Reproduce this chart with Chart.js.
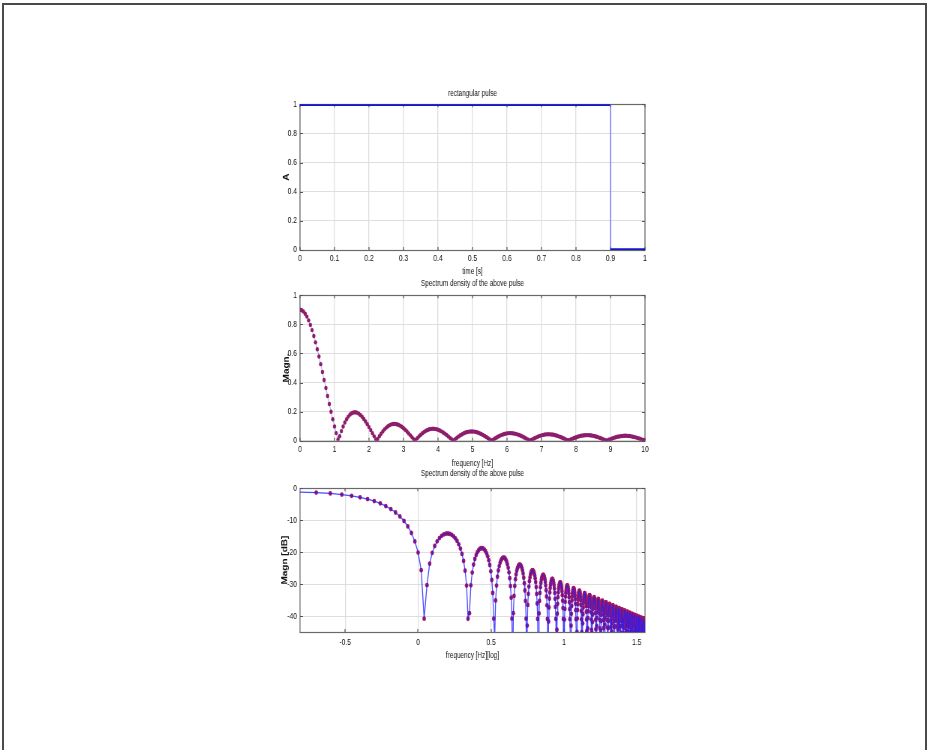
<!DOCTYPE html>
<html>
<head>
<meta charset="utf-8">
<title>rectangular pulse</title>
<script src="https://cdn.jsdelivr.net/npm/chart.js@4.4.1/dist/chart.umd.min.js"></script>
<style>
  html, body { margin: 0; padding: 0; background: #fff; }
  body { width: 927px; height: 750px; position: relative; overflow: hidden; }
  .frame { position: absolute; left: 2px; top: 3px; width: 925px; height: 760px; box-sizing: border-box;
           border: 2px solid #4a4a4a; border-bottom: none; }
  /* the original figure is squeezed horizontally: draw wide, then scale x by 0.75 */
  canvas { position: absolute; left: 0; transform: scaleX(0.75); transform-origin: 0 0; }
</style>
</head>
<body>
<div class="frame"></div>
<canvas id="pulseChart" width="1236" height="280" style="top:0"></canvas>
<canvas id="spectrumChart" width="1236" height="200" style="top:270px"></canvas>
<canvas id="dbChart" width="1236" height="210" style="top:460px"></canvas>
<script>
// top: rectangular pulse (samples every 0.01 s, edge at 0.9 s)
const pulseTime = [
  0, 0.01, 0.02, 0.03, 0.04, 0.05, 0.06, 0.07, 0.08, 0.09,
  0.1, 0.11, 0.12, 0.13, 0.14, 0.15, 0.16, 0.17, 0.18, 0.19,
  0.2, 0.21, 0.22, 0.23, 0.24, 0.25, 0.26, 0.27, 0.28, 0.29,
  0.3, 0.31, 0.32, 0.33, 0.34, 0.35, 0.36, 0.37, 0.38, 0.39,
  0.4, 0.41, 0.42, 0.43, 0.44, 0.45, 0.46, 0.47, 0.48, 0.49,
  0.5, 0.51, 0.52, 0.53, 0.54, 0.55, 0.56, 0.57, 0.58, 0.59,
  0.6, 0.61, 0.62, 0.63, 0.64, 0.65, 0.66, 0.67, 0.68, 0.69,
  0.7, 0.71, 0.72, 0.73, 0.74, 0.75, 0.76, 0.77, 0.78, 0.79,
  0.8, 0.81, 0.82, 0.83, 0.84, 0.85, 0.86, 0.87, 0.88, 0.89,
  0.9, 0.9, 0.91, 0.92, 0.93, 0.94, 0.95, 0.96, 0.97, 0.98, 0.99, 1
];
const pulseAmp = [
  1, 1, 1, 1, 1, 1, 1, 1, 1, 1,
  1, 1, 1, 1, 1, 1, 1, 1, 1, 1,
  1, 1, 1, 1, 1, 1, 1, 1, 1, 1,
  1, 1, 1, 1, 1, 1, 1, 1, 1, 1,
  1, 1, 1, 1, 1, 1, 1, 1, 1, 1,
  1, 1, 1, 1, 1, 1, 1, 1, 1, 1,
  1, 1, 1, 1, 1, 1, 1, 1, 1, 1,
  1, 1, 1, 1, 1, 1, 1, 1, 1, 1,
  1, 1, 1, 1, 1, 1, 1, 1, 1, 1,
  1, 0, 0, 0, 0, 0, 0, 0, 0, 0, 0, 0
];
const timeTicks = [0, 0.1, 0.2, 0.3, 0.4, 0.5, 0.6, 0.7, 0.8, 0.9, 1];
const ampTicks = [0, 0.2, 0.4, 0.6, 0.8, 1];

// middle: magnitude, every 0.05 Hz from 0 to 10 Hz
const freqStep = 0.05;
const magn = [
  0.9, 0.897, 0.888, 0.873, 0.853, 0.827, 0.796, 0.760, 0.720, 0.676,
  0.629, 0.579, 0.526, 0.472, 0.417, 0.362, 0.307, 0.252, 0.199, 0.147,
  0.0984, 0.0521, 0.0091, 0.0304, 0.0660, 0.0975, 0.1246, 0.1474, 0.1657, 0.1796,
  0.1891, 0.1943, 0.1954, 0.1927, 0.1864, 0.1769, 0.1644, 0.1495, 0.1324, 0.1136,
  0.0936, 0.0727, 0.0513, 0.0300, 0.0091, 0.0111, 0.0302, 0.0479, 0.0639, 0.0780,
  0.0900, 0.0998, 0.1073, 0.1124, 0.1150, 0.1154, 0.1135, 0.1094, 0.1033, 0.0954,
  0.0858, 0.0749, 0.0629, 0.0501, 0.0366, 0.0229, 0.0091, 0.0045, 0.0175, 0.0299,
  0.0413, 0.0516, 0.0605, 0.0681, 0.0740, 0.0784, 0.0811, 0.0822, 0.0816, 0.0794,
  0.0757, 0.0706, 0.0642, 0.0567, 0.0483, 0.0391, 0.0294, 0.0193, 0.0091, 0.0011,
  0.0111, 0.0206, 0.0295, 0.0376, 0.0448, 0.0510, 0.0560, 0.0598, 0.0624, 0.0637,
  0.0637, 0.0624, 0.0599, 0.0563, 0.0517, 0.0461, 0.0397, 0.0327, 0.0251, 0.0172,
  0.0091, 0.0009, 0.0071, 0.0149, 0.0222, 0.0289, 0.0350, 0.0402, 0.0446, 0.0480,
  0.0505, 0.0518, 0.0522, 0.0514, 0.0497, 0.0471, 0.0435, 0.0391, 0.0340, 0.0284,
  0.0222, 0.0157, 0.0090, 0.0023, 0.0045, 0.0110, 0.0172, 0.0230, 0.0283, 0.0329,
  0.0368, 0.0399, 0.0422, 0.0436, 0.0441, 0.0438, 0.0426, 0.0405, 0.0377, 0.0342,
  0.0300, 0.0253, 0.0202, 0.0147, 0.0090, 0.0032, 0.0026, 0.0082, 0.0136, 0.0187,
  0.0234, 0.0275, 0.0311, 0.0339, 0.0361, 0.0375, 0.0382, 0.0381, 0.0372, 0.0356,
  0.0334, 0.0305, 0.0270, 0.0230, 0.0186, 0.0139, 0.0090, 0.0039, 0.0011, 0.0061,
  0.0109, 0.0155, 0.0197, 0.0234, 0.0267, 0.0293, 0.0314, 0.0328, 0.0336, 0.0337,
  0.0331, 0.0319, 0.0300, 0.0276, 0.0246, 0.0212, 0.0174, 0.0133, 0.0090, 0.0045,
  0.0003
];
const freqTicks = [0, 1, 2, 3, 4, 5, 6, 7, 8, 9, 10];
const magnTicks = [0, 0.2, 0.4, 0.6, 0.8, 1];

// bottom: the same spectrum in dB on a log axis, continued above 10 Hz
// magnHighA: 10.1, 10.2, ... 36.0 Hz   magnHighB: 10.15, 10.25, ... 35.95 Hz
const freqStartHighA = 10.1;
const freqStartHighB = 10.15;
const freqStepHigh = 0.1;
const magnHighA = [
  0.00879, 0.01672, 0.02318, 0.02769, 0.02994, 0.02979, 0.02730, 0.02271, 0.01641, 0.00894,
  0.00090, 0.00707, 0.01434, 0.02036, 0.02466, 0.02696, 0.02709, 0.02508, 0.02114, 0.01559,
  0.00891, 0.00164, 0.00564, 0.01237, 0.01801, 0.02214, 0.02446, 0.02482, 0.02322, 0.01981,
  0.01489, 0.00888, 0.00225, 0.00445, 0.01070, 0.01602, 0.02000, 0.02234, 0.02289, 0.02162,
  0.01867, 0.01429, 0.00884, 0.00277, 0.00343, 0.00928, 0.01432, 0.01816, 0.02051, 0.02122,
  0.02024, 0.01768, 0.01376, 0.00880, 0.00321, 0.00256, 0.00805, 0.01284, 0.01656, 0.01892,
  0.01976, 0.01903, 0.01681, 0.01329, 0.00876, 0.00359, 0.00179, 0.00697, 0.01154, 0.01515,
  0.01751, 0.01847, 0.01796, 0.01603, 0.01286, 0.00871, 0.00392, 0.00112, 0.00602, 0.01039,
  0.01390, 0.01626, 0.01732, 0.01699, 0.01533, 0.01248, 0.00866, 0.00421, 0.00053, 0.00518,
  0.00937, 0.01277, 0.01514, 0.01628, 0.01612, 0.01469, 0.01212, 0.00861, 0.00446, 0.00002,
  0.00442, 0.00844, 0.01176, 0.01412, 0.01534, 0.01533, 0.01411, 0.01179, 0.00856, 0.00468,
  0.00047, 0.00373, 0.00761, 0.01084, 0.01319, 0.01448, 0.01460, 0.01358, 0.01149, 0.00850,
  0.00488, 0.00090, 0.00311, 0.00685, 0.01000, 0.01234, 0.01368, 0.01393, 0.01308, 0.01120,
  0.00845, 0.00505, 0.00129, 0.00255, 0.00615, 0.00923, 0.01156, 0.01295, 0.01331, 0.01261,
  0.01092, 0.00838, 0.00520, 0.00163, 0.00203, 0.00551, 0.00852, 0.01084, 0.01228, 0.01273,
  0.01218, 0.01066, 0.00832, 0.00534, 0.00195, 0.00156, 0.00492, 0.00786, 0.01016, 0.01164,
  0.01219, 0.01177, 0.01042, 0.00825, 0.00545, 0.00224, 0.00112, 0.00437, 0.00725, 0.00954,
  0.01105, 0.01168, 0.01138, 0.01018, 0.00818, 0.00556, 0.00251, 0.00072, 0.00386, 0.00668,
  0.00895, 0.01050, 0.01120, 0.01101, 0.00995, 0.00811, 0.00565, 0.00275, 0.00035, 0.00339,
  0.00615, 0.00840, 0.00997, 0.01074, 0.01066, 0.00973, 0.00804, 0.00572, 0.00297, 0.00001,
  0.00295, 0.00565, 0.00788, 0.00947, 0.01031, 0.01032, 0.00952, 0.00796, 0.00579, 0.00317,
  0.00032, 0.00254, 0.00518, 0.00739, 0.00900, 0.00990, 0.01000, 0.00931, 0.00788, 0.00585,
  0.00336, 0.00062, 0.00215, 0.00473, 0.00693, 0.00856, 0.00950, 0.00969, 0.00910, 0.00780,
  0.00589, 0.00353, 0.00090, 0.00179, 0.00431, 0.00648, 0.00813, 0.00912, 0.00939, 0.00890,
  0.00772, 0.00593, 0.00369, 0.00116, 0.00144, 0.00392, 0.00607, 0.00772, 0.00876, 0.00909,
  0.00871, 0.00763, 0.00596, 0.00383, 0.00140, 0.00112, 0.00354, 0.00567, 0.00733, 0.00841
];
const magnHighB = [
  0.01290, 0.02017, 0.02570, 0.02911, 0.03017, 0.02883, 0.02525, 0.01974, 0.01279, 0.00495,
  0.00313, 0.01083, 0.01753, 0.02274, 0.02607, 0.02729, 0.02634, 0.02333, 0.01854, 0.01236,
  0.00531, 0.00204, 0.00911, 0.01535, 0.02028, 0.02354, 0.02489, 0.02426, 0.02172, 0.01752,
  0.01199, 0.00561, 0.00112, 0.00767, 0.01351, 0.01820, 0.02139, 0.02284, 0.02248, 0.02034,
  0.01664, 0.01167, 0.00585, 0.00035, 0.00643, 0.01193, 0.01641, 0.01954, 0.02108, 0.02094,
  0.01915, 0.01587, 0.01138, 0.00606, 0.00032, 0.00537, 0.01056, 0.01485, 0.01792, 0.01954,
  0.01959, 0.01810, 0.01519, 0.01113, 0.00623, 0.00090, 0.00444, 0.00936, 0.01349, 0.01650,
  0.01817, 0.01840, 0.01716, 0.01459, 0.01089, 0.00638, 0.00141, 0.00362, 0.00830, 0.01227,
  0.01523, 0.01696, 0.01733, 0.01632, 0.01404, 0.01067, 0.00650, 0.00185, 0.00289, 0.00735,
  0.01119, 0.01410, 0.01587, 0.01636, 0.01556, 0.01354, 0.01047, 0.00660, 0.00225, 0.00224,
  0.00650, 0.01021, 0.01307, 0.01488, 0.01549, 0.01487, 0.01308, 0.01027, 0.00668, 0.00260,
  0.00165, 0.00573, 0.00932, 0.01214, 0.01397, 0.01469, 0.01423, 0.01265, 0.01009, 0.00675,
  0.00291, 0.00112, 0.00503, 0.00851, 0.01129, 0.01315, 0.01395, 0.01364, 0.01226, 0.00992,
  0.00681, 0.00320, 0.00064, 0.00440, 0.00777, 0.01050, 0.01238, 0.01327, 0.01309, 0.01189,
  0.00975, 0.00686, 0.00345, 0.00020, 0.00381, 0.00709, 0.00978, 0.01167, 0.01263, 0.01258,
  0.01154, 0.00959, 0.00689, 0.00368, 0.00020, 0.00327, 0.00646, 0.00911, 0.01102, 0.01204,
  0.01210, 0.01120, 0.00943, 0.00692, 0.00388, 0.00056, 0.00278, 0.00587, 0.00848, 0.01040,
  0.01148, 0.01164, 0.01089, 0.00927, 0.00694, 0.00407, 0.00090, 0.00232, 0.00533, 0.00790,
  0.00982, 0.01096, 0.01122, 0.01059, 0.00912, 0.00695, 0.00424, 0.00121, 0.00189, 0.00482,
  0.00735, 0.00928, 0.01046, 0.01081, 0.01030, 0.00897, 0.00695, 0.00439, 0.00150, 0.00149,
  0.00434, 0.00683, 0.00877, 0.00999, 0.01042, 0.01002, 0.00883, 0.00694, 0.00452, 0.00176,
  0.00112, 0.00390, 0.00635, 0.00828, 0.00955, 0.01005, 0.00975, 0.00868, 0.00693, 0.00465,
  0.00201, 0.00077, 0.00348, 0.00589, 0.00782, 0.00912, 0.00969, 0.00949, 0.00854, 0.00692,
  0.00476, 0.00223, 0.00045, 0.00308, 0.00546, 0.00738, 0.00871, 0.00935, 0.00924, 0.00839,
  0.00689, 0.00486, 0.00245, 0.00015, 0.00271, 0.00504, 0.00697, 0.00832, 0.00902, 0.00899,
  0.00825, 0.00687, 0.00494, 0.00264, 0.00014, 0.00236, 0.00465, 0.00657, 0.00795
];
const logFreqTicks = [-0.5, 0, 0.5, 1, 1.5];
const dbTicks = [-40, -30, -20, -10, 0];

Chart.defaults.font.family = '"Liberation Sans", Arial, sans-serif';
Chart.defaults.font.size = 9;
Chart.defaults.color = '#111';

const gridColor = '#dedede';

// matlab style box and inward ticks (canvas units, x is squeezed by 0.75 later)
const boxPlugin = {
  id: 'matlabBox',
  beforeDatasetsDraw(chart) {
    const { ctx, chartArea: a, scales } = chart;
    ctx.save();
    ctx.strokeStyle = '#6a6a6a';
    ctx.lineWidth = 1.2;
    ctx.strokeRect(Math.round(a.left), Math.round(a.top) + 0.5,
      Math.round(a.right - a.left), Math.round(a.bottom - a.top));
    ctx.strokeStyle = '#555';
    ctx.beginPath();
    scales.x.ticks.forEach(t => {
      const px = Math.round(scales.x.getPixelForValue(t.value));
      ctx.moveTo(px, a.bottom); ctx.lineTo(px, a.bottom - 3);
      ctx.moveTo(px, a.top); ctx.lineTo(px, a.top + 3);
    });
    scales.y.ticks.forEach(t => {
      const py = Math.round(scales.y.getPixelForValue(t.value)) + 0.5;
      ctx.moveTo(a.left, py); ctx.lineTo(a.left + 4, py);
      ctx.moveTo(a.right, py); ctx.lineTo(a.right - 4, py);
    });
    ctx.stroke();
    ctx.restore();
  }
};

function makeOptions(o) {
  return {
    responsive: false,
    animation: false,
    events: [],
    layout: { padding: { left: 333.3, right: 376, top: o.top, bottom: 0 } },
    plugins: {
      legend: { display: false },
      tooltip: { enabled: false },
      title: {
        display: true, text: o.title, fullSize: false, color: '#111',
        font: { size: 8.5, weight: 'normal' },
        padding: { top: o.titleTop, bottom: o.titleBottom }
      }
    },
    scales: {
      x: {
        type: 'linear', min: o.xMin, max: o.xMax,
        afterBuildTicks: s => { s.ticks = o.xTicks.map(v => ({ value: v })); },
        afterFit: s => { s.height = o.xHeight; },
        grid: { color: gridColor, lineWidth: 1.3, drawTicks: false },
        border: { display: false },
        ticks: { padding: o.xTickPad, maxRotation: 0, autoSkip: false, callback: v => String(v) },
        title: { display: true, text: o.xTitle, color: '#111', font: { size: 8.5 },
                 padding: { top: 0, bottom: o.xTitlePad } }
      },
      y: {
        type: 'linear', min: o.yMin, max: o.yMax,
        afterBuildTicks: s => { s.ticks = o.yTicks.map(v => ({ value: v })); },
        afterFit: s => { s.width = 66.7; },
        grid: { color: gridColor, drawTicks: false },
        border: { display: false },
        ticks: { padding: 4, autoSkip: false, callback: v => String(v) },
        title: { display: true, text: o.yTitle, color: '#111', font: { size: 10, weight: 'bold' },
                 padding: { top: o.yTitlePad, bottom: 0 } }
      }
    }
  };
}

// 1. rectangular pulse: thick levels, thin edge
const pulsePoints = pulseTime.map((t, i) => ({ x: t, y: pulseAmp[i] }));
const isLevel = c => c.p0.parsed.y === c.p1.parsed.y;
new Chart(document.getElementById('pulseChart'), {
  type: 'line',
  data: {
    datasets: [{
      data: pulsePoints, borderColor: '#1414cc', borderWidth: 3.5, pointRadius: 0,
      segment: {
        borderWidth: c => (isLevel(c) ? 3.5 : 1.3),
        borderColor: c => (isLevel(c) ? '#1414cc' : '#6a6aff')
      }
    }]
  },
  options: makeOptions({
    top: 80, titleTop: 9, titleBottom: 5, title: 'rectangular pulse',
    xMin: 0, xMax: 1, xTicks: timeTicks, xHeight: 30, xTickPad: 3, xTitle: 'time [s]', xTitlePad: 3.4,
    yMin: 0, yMax: 1, yTicks: ampTicks, yTitle: 'A', yTitlePad: 43.3
  }),
  plugins: [boxPlugin]
});

// 2. spectrum density, linear
const spectrumPoints = magn.map((m, k) => ({ x: k * freqStep, y: m }));
new Chart(document.getElementById('spectrumChart'), {
  type: 'line',
  data: {
    datasets: [
      { data: spectrumPoints, showLine: true, borderColor: 'rgba(60,60,230,0.45)', borderWidth: 1,
        pointRadius: 0, order: 0 },
      { data: spectrumPoints.map(p => ({ x: p.x, y: p.y })), showLine: false, pointRadius: 2.2,
        pointBorderWidth: 0, pointBackgroundColor: '#981a5c', order: 1 }
    ]
  },
  options: makeOptions({
    top: 0, titleTop: 9, titleBottom: 6, title: 'Spectrum density of the above pulse',
    xMin: 0, xMax: 10, xTicks: freqTicks, xHeight: 29.3, xTickPad: 3, xTitle: 'frequency [Hz]', xTitlePad: 1,
    yMin: 0, yMax: 1, yTicks: magnTicks, yTitle: 'Magn.', yTitlePad: 43
  }),
  plugins: [boxPlugin]
});

// 3. spectrum density in dB over log10 frequency
const dbPoints = [];
magn.forEach((m, k) => {
  if (k > 0) dbPoints.push({ x: Math.log10(k * freqStep), y: 20 * Math.log10(m) });
});
magnHighA.forEach((m, i) => {
  dbPoints.push({ x: Math.log10(freqStartHighA + i * freqStepHigh), y: 20 * Math.log10(m) });
  if (i < magnHighB.length) {
    dbPoints.push({ x: Math.log10(freqStartHighB + i * freqStepHigh), y: 20 * Math.log10(magnHighB[i]) });
  }
});
new Chart(document.getElementById('dbChart'), {
  type: 'line',
  data: {
    datasets: [
      { data: dbPoints, showLine: true, borderColor: 'rgba(30,30,255,0.8)', borderWidth: 1.3,
        pointRadius: 0, order: 0 },
      { data: dbPoints.map(p => ({ x: p.x, y: p.y })), showLine: false, pointRadius: 2.4,
        pointBorderWidth: 0, pointBackgroundColor: '#a8165a', order: 1 }
    ]
  },
  options: makeOptions({
    top: 0, titleTop: 9, titleBottom: 9, title: 'Spectrum density of the above pulse',
    xMin: -0.81, xMax: 1.556, xTicks: logFreqTicks, xHeight: 38, xTickPad: 5, xTitle: 'frequency [Hz][log]', xTitlePad: 9.5,
    yMin: -45, yMax: 0, yTicks: dbTicks, yTitle: 'Magn [dB]', yTitlePad: 40.7
  }),
  plugins: [boxPlugin]
});
</script>
</body>
</html>
